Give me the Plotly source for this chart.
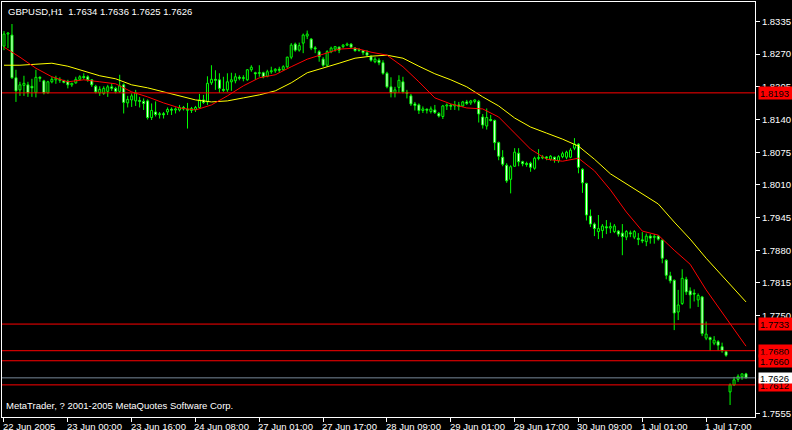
import plotly.graph_objects as go

# ---------------- data (GBPUSD H1, bar index 0 = 22 Jun 2005 08:00) ----------------
opens = [
    1.8286, 1.8310, 1.8308, 1.8223, 1.8199, 1.8208, 1.8209, 1.8206, 1.8194, 1.8224,
    1.8217, 1.8193, 1.8215, 1.8219, 1.8220, 1.8217, 1.8216, 1.8209, 1.8213, 1.8220,
    1.8225, 1.8225, 1.8219, 1.8206, 1.8193, 1.8192, 1.8196, 1.8205, 1.8202, 1.8196,
    1.8209, 1.8173, 1.8179, 1.8177, 1.8178, 1.8176, 1.8177, 1.8144, 1.8155, 1.8150,
    1.8151, 1.8155, 1.8160, 1.8159, 1.8159, 1.8164, 1.8160, 1.8158, 1.8160, 1.8164,
    1.8179, 1.8175, 1.8213, 1.8220, 1.8219, 1.8200, 1.8199, 1.8215, 1.8217, 1.8224,
    1.8222, 1.8219, 1.8239, 1.8233, 1.8232, 1.8233, 1.8226, 1.8235, 1.8237, 1.8240,
    1.8239, 1.8245, 1.8264, 1.8290, 1.8278, 1.8292, 1.8306, 1.8300, 1.8282, 1.8275,
    1.8260, 1.8248, 1.8275, 1.8280, 1.8284, 1.8285, 1.8288, 1.8290, 1.8282, 1.8279,
    1.8277, 1.8273, 1.8265, 1.8255, 1.8258, 1.8253, 1.8232, 1.8205, 1.8193, 1.8204,
    1.8215, 1.8194, 1.8187, 1.8171, 1.8169, 1.8158, 1.8160, 1.8156, 1.8159, 1.8152,
    1.8146, 1.8167, 1.8168, 1.8167, 1.8169, 1.8167, 1.8175, 1.8173, 1.8176, 1.8176,
    1.8145, 1.8127, 1.8140, 1.8138, 1.8094, 1.8065, 1.8049, 1.8021, 1.8047, 1.8073,
    1.8056, 1.8052, 1.8053, 1.8043, 1.8063, 1.8064, 1.8065, 1.8061, 1.8065, 1.8058,
    1.8066, 1.8065, 1.8065, 1.8083, 1.8091, 1.8041, 1.8013, 1.7948, 1.7932, 1.7917,
    1.7919, 1.7926, 1.7924, 1.7917, 1.7918, 1.7914, 1.7906, 1.7914, 1.7906, 1.7903,
    1.7900, 1.7897, 1.7908, 1.7906, 1.7908, 1.7900, 1.7860, 1.7829, 1.7820, 1.7757,
    1.7774, 1.7822, 1.7799, 1.7794, 1.7781, 1.7787, 1.7705, 1.7706, 1.7695, 1.7698,
    1.7688, 1.7678, 1.7598, 1.7612, 1.7623, 1.7628, 1.7634,
]
highs = [
    1.8316, 1.8314, 1.8330, 1.8239, 1.8215, 1.8227, 1.8215, 1.8221, 1.8239, 1.8226,
    1.8219, 1.8217, 1.8225, 1.8227, 1.8224, 1.8219, 1.8219, 1.8213, 1.8225, 1.8228,
    1.8232, 1.8228, 1.8220, 1.8209, 1.8206, 1.8206, 1.8209, 1.8212, 1.8205, 1.8229,
    1.8212, 1.8187, 1.8192, 1.8199, 1.8185, 1.8182, 1.8180, 1.8172, 1.8176, 1.8155,
    1.8155, 1.8164, 1.8164, 1.8164, 1.8169, 1.8167, 1.8173, 1.8165, 1.8167, 1.8191,
    1.8189, 1.8226, 1.8248, 1.8238, 1.8232, 1.8225, 1.8232, 1.8233, 1.8232, 1.8228,
    1.8228, 1.8240, 1.8248, 1.8235, 1.8248, 1.8235, 1.8239, 1.8245, 1.8242, 1.8245,
    1.8248, 1.8265, 1.8292, 1.8293, 1.8293, 1.8311, 1.8317, 1.8302, 1.8286, 1.8278,
    1.8264, 1.8278, 1.8285, 1.8286, 1.8285, 1.8290, 1.8293, 1.8292, 1.8284, 1.8282,
    1.8278, 1.8278, 1.8268, 1.8264, 1.8262, 1.8258, 1.8235, 1.8224, 1.8205, 1.8228,
    1.8225, 1.8199, 1.8191, 1.8175, 1.8172, 1.8166, 1.8162, 1.8166, 1.8169, 1.8155,
    1.8169, 1.8172, 1.8171, 1.8177, 1.8175, 1.8177, 1.8179, 1.8179, 1.8180, 1.8179,
    1.8151, 1.8162, 1.8149, 1.8140, 1.8096, 1.8079, 1.8053, 1.8049, 1.8083, 1.8083,
    1.8058, 1.8056, 1.8056, 1.8066, 1.8081, 1.8069, 1.8067, 1.8069, 1.8066, 1.8069,
    1.8076, 1.8078, 1.8083, 1.8103, 1.8093, 1.8043, 1.8014, 1.7961, 1.7935, 1.7950,
    1.7932, 1.7940, 1.7935, 1.7932, 1.7920, 1.7932, 1.7920, 1.7919, 1.7920, 1.7914,
    1.7916, 1.7913, 1.7912, 1.7912, 1.7910, 1.7901, 1.7862, 1.7837, 1.7822, 1.7801,
    1.7842, 1.7827, 1.7806, 1.7802, 1.7794, 1.7789, 1.7738, 1.7708, 1.7709, 1.7701,
    1.7696, 1.7680, 1.7615, 1.7628, 1.7633, 1.7634, 1.7636,
]
lows = [
    1.8278, 1.8282, 1.8221, 1.8175, 1.8187, 1.8187, 1.8185, 1.8185, 1.8184, 1.8215,
    1.8190, 1.8192, 1.8212, 1.8211, 1.8213, 1.8212, 1.8202, 1.8205, 1.8211, 1.8217,
    1.8220, 1.8215, 1.8205, 1.8192, 1.8187, 1.8189, 1.8185, 1.8197, 1.8192, 1.8193,
    1.8152, 1.8164, 1.8165, 1.8167, 1.8164, 1.8159, 1.8140, 1.8139, 1.8146, 1.8142,
    1.8142, 1.8149, 1.8149, 1.8152, 1.8156, 1.8158, 1.8122, 1.8153, 1.8155, 1.8162,
    1.8171, 1.8169, 1.8209, 1.8199, 1.8193, 1.8195, 1.8195, 1.8197, 1.8212, 1.8218,
    1.8216, 1.8217, 1.8235, 1.8219, 1.8225, 1.8222, 1.8224, 1.8231, 1.8233, 1.8233,
    1.8237, 1.8242, 1.8260, 1.8275, 1.8275, 1.8272, 1.8300, 1.8278, 1.8272, 1.8255,
    1.8245, 1.8245, 1.8272, 1.8275, 1.8272, 1.8282, 1.8286, 1.8282, 1.8275, 1.8275,
    1.8268, 1.8266, 1.8255, 1.8252, 1.8248, 1.8229, 1.8202, 1.8184, 1.8184, 1.8193,
    1.8192, 1.8182, 1.8167, 1.8158, 1.8151, 1.8153, 1.8152, 1.8152, 1.8151, 1.8144,
    1.8141, 1.8159, 1.8159, 1.8159, 1.8158, 1.8165, 1.8169, 1.8169, 1.8172, 1.8134,
    1.8122, 1.8120, 1.8136, 1.8079, 1.8059, 1.8047, 1.8014, 1.7993, 1.8046, 1.8047,
    1.8047, 1.8046, 1.8036, 1.8040, 1.8059, 1.8061, 1.8059, 1.8058, 1.8054, 1.8054,
    1.8063, 1.8061, 1.8063, 1.8079, 1.8033, 1.7994, 1.7939, 1.7926, 1.7908, 1.7902,
    1.7904, 1.7912, 1.7914, 1.7914, 1.7907, 1.7870, 1.7900, 1.7906, 1.7902, 1.7890,
    1.7894, 1.7888, 1.7893, 1.7893, 1.7899, 1.7854, 1.7822, 1.7814, 1.7721, 1.7741,
    1.7771, 1.7791, 1.7764, 1.7778, 1.7767, 1.7709, 1.7701, 1.7680, 1.7691, 1.7680,
    1.7676, 1.7668, 1.7572, 1.7610, 1.7618, 1.7622, 1.7625,
]
closes = [
    1.8310, 1.8312, 1.8223, 1.8197, 1.8209, 1.8212, 1.8193, 1.8203, 1.8224, 1.8222,
    1.8193, 1.8215, 1.8220, 1.8222, 1.8218, 1.8214, 1.8209, 1.8212, 1.8220, 1.8225,
    1.8224, 1.8219, 1.8209, 1.8195, 1.8200, 1.8202, 1.8205, 1.8202, 1.8196, 1.8207,
    1.8174, 1.8180, 1.8187, 1.8193, 1.8176, 1.8172, 1.8144, 1.8158, 1.8150, 1.8151,
    1.8150, 1.8160, 1.8159, 1.8161, 1.8164, 1.8161, 1.8159, 1.8162, 1.8164, 1.8179,
    1.8174, 1.8212, 1.8220, 1.8218, 1.8202, 1.8198, 1.8215, 1.8219, 1.8225, 1.8222,
    1.8223, 1.8239, 1.8244, 1.8231, 1.8233, 1.8225, 1.8235, 1.8237, 1.8240, 1.8238,
    1.8245, 1.8264, 1.8288, 1.8278, 1.8287, 1.8308, 1.8310, 1.8282, 1.8281, 1.8265,
    1.8248, 1.8275, 1.8282, 1.8285, 1.8278, 1.8288, 1.8290, 1.8284, 1.8277, 1.8278,
    1.8273, 1.8268, 1.8258, 1.8260, 1.8253, 1.8232, 1.8205, 1.8193, 1.8199, 1.8218,
    1.8195, 1.8192, 1.8171, 1.8168, 1.8158, 1.8161, 1.8159, 1.8161, 1.8154, 1.8147,
    1.8167, 1.8169, 1.8167, 1.8169, 1.8166, 1.8175, 1.8172, 1.8177, 1.8179, 1.8151,
    1.8129, 1.8144, 1.8138, 1.8094, 1.8067, 1.8051, 1.8018, 1.8046, 1.8075, 1.8056,
    1.8052, 1.8051, 1.8045, 1.8063, 1.8064, 1.8065, 1.8064, 1.8067, 1.8060, 1.8066,
    1.8072, 1.8075, 1.8079, 1.8091, 1.8045, 1.8014, 1.7950, 1.7932, 1.7923, 1.7923,
    1.7928, 1.7925, 1.7927, 1.7928, 1.7912, 1.7907, 1.7917, 1.7913, 1.7917, 1.7902,
    1.7899, 1.7908, 1.7904, 1.7907, 1.7902, 1.7864, 1.7830, 1.7819, 1.7755, 1.7771,
    1.7824, 1.7797, 1.7791, 1.7793, 1.7790, 1.7714, 1.7713, 1.7702, 1.7701, 1.7691,
    1.7680, 1.7671, 1.7612, 1.7622, 1.7629, 1.7634, 1.7626,
]

# moving averages, read at every 4th bar
ma_idx = [0, 4, 8, 12, 16, 20, 24, 28, 32, 36, 40, 44, 48, 52, 56, 60, 64, 68, 72, 76,
          80, 84, 88, 92, 96, 100, 104, 108, 112, 116, 120, 124, 128, 132, 136, 140,
          144, 148, 152, 156, 160, 164, 168, 172, 176, 180, 184, 186]
ma_fast = [1.8284, 1.8264, 1.8242, 1.8225, 1.8215, 1.8219, 1.8215, 1.8211, 1.8195, 1.8185,
           1.8173, 1.8163, 1.8159, 1.8169, 1.8187, 1.8207, 1.8223, 1.8229, 1.8245, 1.8260,
           1.8270, 1.8280, 1.8282, 1.8274, 1.8268, 1.8245, 1.8215, 1.8183, 1.8171, 1.8163,
           1.8161, 1.8145, 1.8113, 1.8081, 1.8061, 1.8057, 1.8063, 1.8038, 1.8000, 1.7956,
           1.7918, 1.7910, 1.7880, 1.7852, 1.7801, 1.7757, 1.7713, 1.7689]
ma_slow = [1.8248, 1.8248, 1.8250, 1.8252, 1.8246, 1.8237, 1.8227, 1.8221, 1.8209, 1.8203,
           1.8195, 1.8187, 1.8179, 1.8175, 1.8177, 1.8183, 1.8189, 1.8197, 1.8213, 1.8233,
           1.8242, 1.8252, 1.8262, 1.8266, 1.8268, 1.8262, 1.8246, 1.8231, 1.8219, 1.8205,
           1.8185, 1.8167, 1.8143, 1.8125, 1.8113, 1.8101, 1.8087, 1.8061, 1.8032, 1.8012,
           1.7992, 1.7972, 1.7936, 1.7902, 1.7864, 1.7829, 1.7795, 1.7777]

level_lines = [1.8193, 1.7733, 1.7680, 1.7660, 1.7612]
bid_price = 1.7626

y_tick_show = [1.8335, 1.8270, 1.8205, 1.8140, 1.8075, 1.8010, 1.7945, 1.7880,
               1.7815, 1.7750, 1.7555]
x_tick_idx = [0, 16, 32, 48, 64, 80, 96, 112, 128, 144, 160, 176]
x_tick_labels = ["22 Jun 2005", "23 Jun 00:00", "23 Jun 16:00", "24 Jun 08:00",
                 "27 Jun 01:00", "27 Jun 17:00", "28 Jun 09:00", "29 Jun 01:00",
                 "29 Jun 17:00", "30 Jun 09:00", "1 Jul 01:00", "1 Jul 17:00"]

symbol = "GBPUSD,H1"
footer = "MetaTrader, ? 2001-2005 MetaQuotes Software Corp."

# ---------------- figure ----------------
FONT = "Liberation Sans, Arial, sans-serif"
FS = 9.5
LIME = "#00ff00"

n = len(opens)
idx = list(range(n))
MIN_BODY = 0.0002
body_base, body_h, body_fill = [], [], []
for o, c in zip(opens, closes):
    lo, hi = min(o, c), max(o, c)
    if hi - lo < MIN_BODY:
        mid = (hi + lo) / 2
        lo, hi = mid - MIN_BODY / 2, mid + MIN_BODY / 2
    body_base.append(lo)
    body_h.append(hi - lo)
    body_fill.append("black" if c >= o else "white")

wx, wy = [], []
for i, (o, h, l, c) in enumerate(zip(opens, highs, lows, closes)):
    top, bot = max(o, c), min(o, c)
    wx += [i, i, None, i, i, None]
    wy += [max(h, top), top, None, bot, min(l, bot), None]

fig = go.Figure()
fig.add_trace(go.Bar(x=idx, y=body_h, base=body_base, width=0.5,
                     marker=dict(color=body_fill, line=dict(color=LIME, width=1)),
                     hoverinfo="skip"))
fig.add_trace(go.Scatter(x=wx, y=wy, mode="lines", line=dict(color=LIME, width=1),
                         hoverinfo="skip"))
fig.add_trace(go.Scatter(x=ma_idx, y=ma_slow, mode="lines",
                         line=dict(color="#ffff00", width=1)))
fig.add_trace(go.Scatter(x=ma_idx, y=ma_fast, mode="lines",
                         line=dict(color="#ff0000", width=1)))

shapes = []
for v in level_lines:
    shapes.append(dict(type="line", xref="paper", x0=0, x1=1, yref="y", y0=v, y1=v,
                       line=dict(color="#ff0000", width=1)))
shapes.append(dict(type="line", xref="paper", x0=0, x1=1, yref="y", y0=bid_price,
                   y1=bid_price, line=dict(color="#778899", width=1)))

annotations = []
for v in level_lines:
    annotations.append(dict(xref="paper", x=1, xanchor="left", xshift=3, yref="y", y=v,
                            text=f"{v:.4f}", showarrow=False, bgcolor="#ff0000",
                            font=dict(family=FONT, size=FS, color="black"),
                            width=31, height=10, align="left", borderpad=1))
annotations.append(dict(xref="paper", x=1, xanchor="left", xshift=3, yref="y", y=bid_price,
                        text=f"{bid_price:.4f}", showarrow=False, bgcolor="white",
                        font=dict(family=FONT, size=FS, color="black"),
                        width=31, height=8, align="left", borderpad=1))
for xi, lab in zip(x_tick_idx, x_tick_labels):
    annotations.append(dict(xref="x", x=xi, xanchor="left", xshift=-2, yref="paper", y=0,
                            yanchor="top", yshift=-3, text=lab, showarrow=False,
                            font=dict(family=FONT, size=FS, color="white"), borderpad=0))
title_txt = symbol + "\u00a0\u00a0" + " ".join(
    f"{v:.4f}" for v in (opens[-1], highs[-1], lows[-1], closes[-1]))
annotations.append(dict(xref="paper", x=0, xanchor="left", xshift=5, yref="paper", y=1,
                        yanchor="top", yshift=-3, text=title_txt, showarrow=False,
                        font=dict(family=FONT, size=FS, color="white"), borderpad=0))
annotations.append(dict(xref="paper", x=0, xanchor="left", xshift=3, yref="paper", y=0,
                        yanchor="bottom", yshift=5, text=footer, showarrow=False,
                        font=dict(family=FONT, size=FS, color="white"), borderpad=0))

fig.update_layout(
    width=792, height=430,
    margin=dict(l=1, r=36, t=2, b=13),
    paper_bgcolor="black", plot_bgcolor="black",
    showlegend=False,
    shapes=shapes, annotations=annotations,
    xaxis=dict(range=[-0.5, 188.25], showgrid=False, zeroline=False,
               showline=True, linecolor="white", linewidth=1, mirror=True,
               ticks="outside", ticklen=4, tickcolor="white", tickwidth=1,
               tickvals=x_tick_idx, showticklabels=False, fixedrange=True),
    yaxis=dict(range=[1.75481, 1.83738], side="right", showgrid=False, zeroline=False,
               showline=True, linecolor="white", linewidth=1, mirror=True,
               ticks="outside", ticklen=4, tickcolor="white", tickwidth=1,
               tickvals=y_tick_show, ticktext=[f"{v:.4f}" for v in y_tick_show],
               tickfont=dict(family=FONT, size=FS, color="white"), fixedrange=True),
)

fig.write_html("out.html", config={"displayModeBar": False},
               post_script="document.body.style.margin='0';document.body.style.background='black';")
